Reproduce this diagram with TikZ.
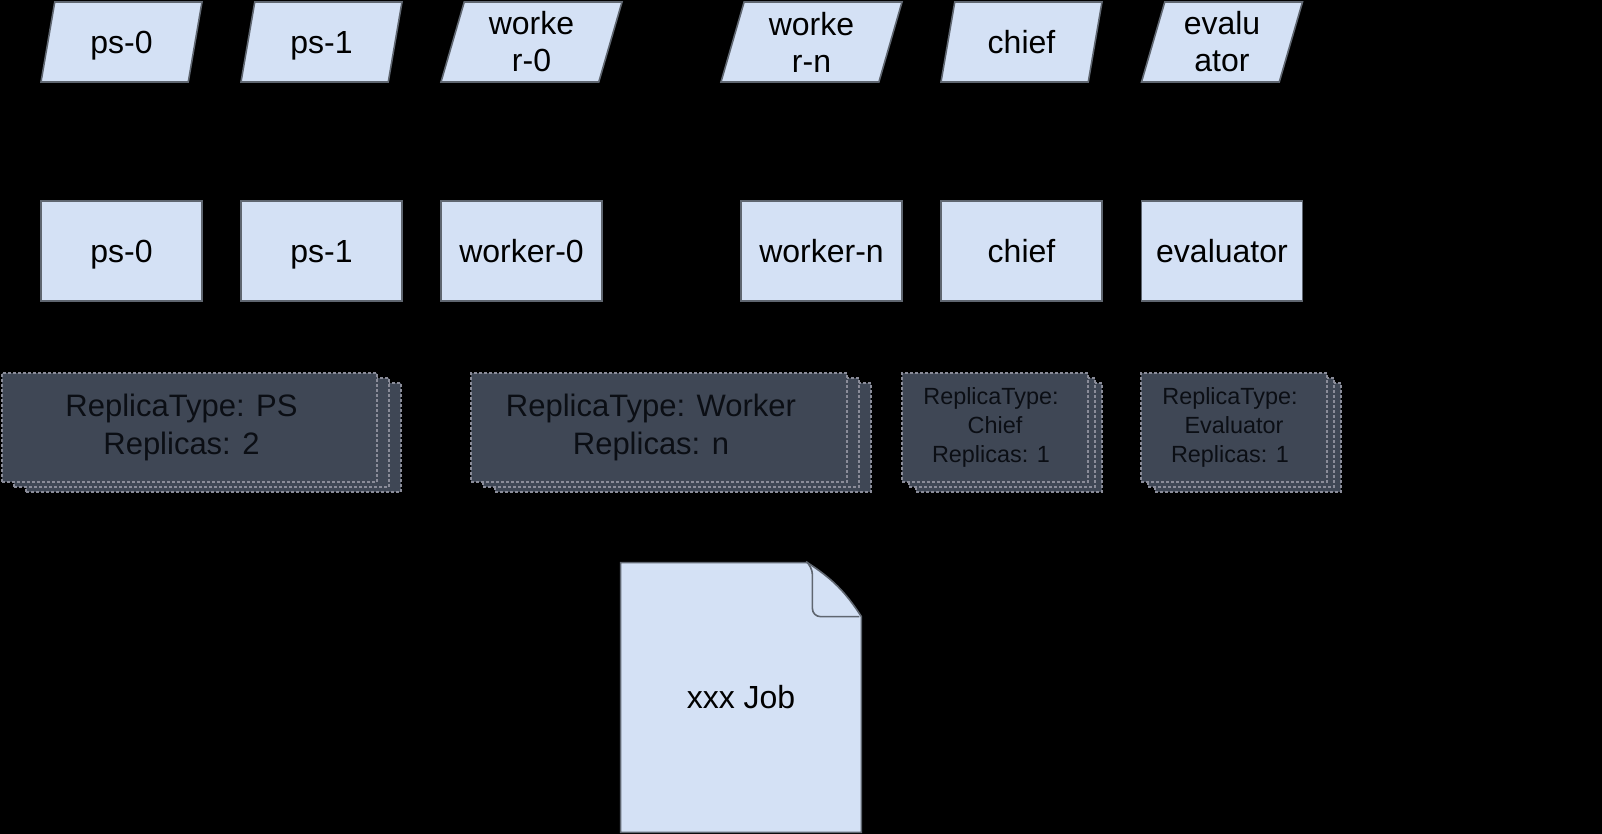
\documentclass[tikz,border=0pt]{standalone}
\usepackage{fontspec}
\setmainfont{Liberation Sans}
\usetikzlibrary{shapes.geometric,shadows,calc}
\definecolor{podfill}{HTML}{D4E1F5}
\definecolor{podline}{HTML}{5F6670}
\definecolor{specfill}{HTML}{3F4755}
\definecolor{specline}{HTML}{8A8C99}
\definecolor{spectext}{HTML}{0B0E14}
\tikzset{
  svc/.style={trapezium, trapezium left angle=69, trapezium right angle=111,
    trapezium stretches body, draw=podline, fill=podfill, line width=0.8pt,
    minimum height=40pt, inner sep=0pt, align=center, font=\fontsize{16}{18.5}\selectfont},
  pod/.style={rectangle, draw=podline, fill=podfill, line width=0.8pt,
    minimum height=50pt, minimum width=80.5pt, inner sep=0pt, font=\fontsize{16}{19}\selectfont},
  oneline/.style={text height=14.7pt, text depth=3.2pt},
  spec/.style={rectangle, draw=specline, fill=specfill, dash pattern=on 1.5pt off 1pt,
    line width=0.6pt, minimum height=54.5pt, inner sep=0pt, align=center, text=spectext,
    double copy shadow={shadow xshift=#1, shadow yshift=-2.5pt}},
  spec/.default=6pt,
  bigtxt/.style={font=\fontsize{15.5}{19}\selectfont},
  smalltxt/.style={font=\fontsize{11.7}{14.5}\selectfont},
  docbox/.style={draw=podline, fill=podfill, line width=0.8pt},
}
\begin{document}
\begin{tikzpicture}[x=0.5pt, y=-0.5pt]
\useasboundingbox[fill=black] (0,0) rectangle (1602,834);

% services
\node[svc, oneline, minimum width=80.5pt] (s_ps0) at (121.5,42) {ps-0};
\node[svc, oneline, minimum width=80.5pt] (s_ps1) at (321.5,42) {ps-1};
\node[svc, minimum width=90.5pt] (s_wk0) at (531.5,42) {worke\\r-0};
\node[svc, minimum width=90.5pt] (s_wkn) at (811.5,42) {worke\\r-n};
\node[svc, oneline, minimum width=80.5pt] (s_chief) at (1021.5,42) {chief};
\node[svc, minimum width=80.5pt] (s_eval) at (1222,42) {evalu\\ator};

% pods
\node[pod, oneline] (p_ps0) at (121.5,251) {ps-0};
\node[pod, oneline] (p_ps1) at (321.5,251) {ps-1};
\node[pod, oneline] (p_wk0) at (521.5,251) {worker-0};
\node[pod, oneline] (p_wkn) at (821.5,251) {worker-n};
\node[pod, oneline] (p_chief) at (1021.5,251) {chief};
\node[pod, oneline] (p_eval) at (1222,251) {evaluator};

% replica specs
\node[spec, bigtxt, minimum width=187.5pt] (r_ps) at (189.5,427.5) {ReplicaType: PS\hspace*{8pt}\\Replicas: 2\hspace*{8pt}};
\node[spec, bigtxt, minimum width=188pt] (r_wk) at (659,427.5) {ReplicaType: Worker\hspace*{8pt}\\Replicas: n\hspace*{8pt}};
\node[spec=3.5pt, smalltxt, minimum width=93pt] (r_chief) at (995,427.5) {ReplicaType:\hspace*{4pt}\\Chief\hspace*{4pt}\\Replicas: 1\hspace*{4pt}};
\node[spec=3.5pt, smalltxt, minimum width=93pt] (r_eval) at (1234,427.5) {ReplicaType:\hspace*{4pt}\\Evaluator\hspace*{4pt}\\Replicas: 1\hspace*{4pt}};

% job document
\node[minimum width=120pt, minimum height=134.5pt, inner sep=0pt] (job) at (741,697.5) {};
\draw[docbox] (job.south west) -- (job.north west) -- ($(job.north east)+(-54,0)$)
  to[bend left=12] ($(job.north east)+(0,54)$) -- (job.south east) -- cycle;
\draw[podline, line width=0.8pt, rounded corners=4pt] ($(job.north east)+(-54,0)$)
  -- ($(job.north east)+(-49,4)$) -- ($(job.north east)+(-49,54)$) -- ($(job.north east)+(-2,54)$);
\node[font=\fontsize{16}{19}\selectfont] (jobtxt) at (job.center) {xxx Job};

\end{tikzpicture}
\end{document}
